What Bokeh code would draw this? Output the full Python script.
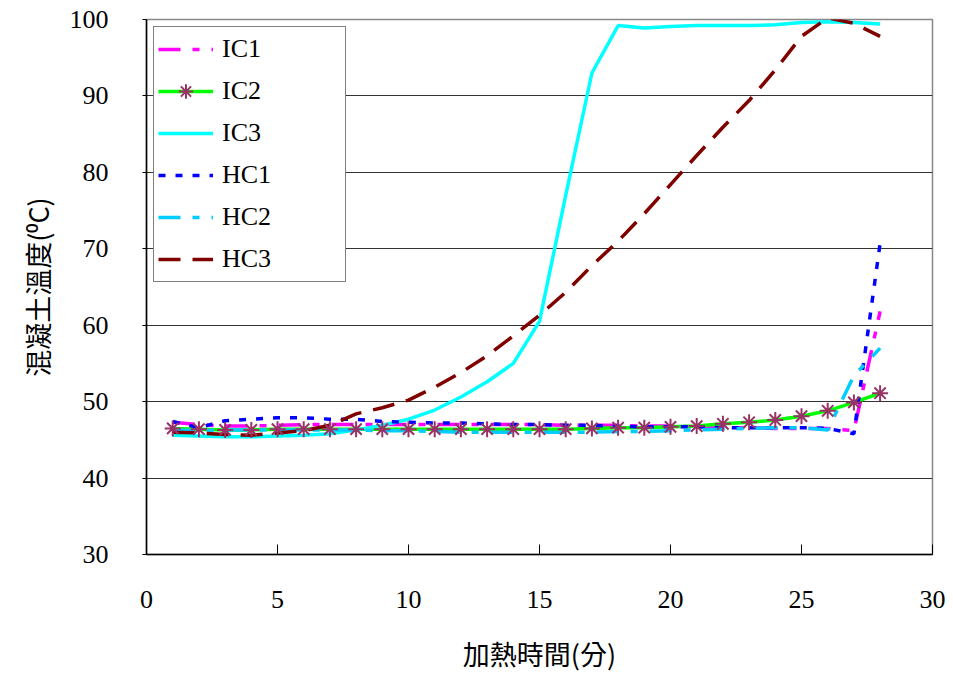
from bokeh.plotting import figure
from bokeh.models import FixedTicker, Range1d
from bokeh.embed import file_html
from bokeh.resources import INLINE

minutes = list(range(1, 29))

ic1 = [47.3, 47.0, 46.8, 46.8, 46.9, 47.0, 47.0, 47.0, 47.0, 47.0, 47.0, 47.0, 47.0, 47.0,
       47.0, 46.9, 46.9, 46.9, 46.8, 46.8, 46.7, 46.6, 46.6, 46.5, 46.5, 46.5, 46.2, 61.8]
ic2 = [46.5, 46.4, 46.3, 46.3, 46.4, 46.4, 46.4, 46.4, 46.4, 46.4, 46.4, 46.4, 46.4, 46.4,
       46.4, 46.4, 46.5, 46.6, 46.6, 46.7, 46.8, 47.1, 47.3, 47.6, 48.1, 48.8, 49.9, 51.1]
ic3 = [45.6, 45.5, 45.4, 45.4, 45.5, 45.6, 45.8, 46.3, 46.9, 47.7, 48.9, 50.6, 52.6, 55.0,
       60.5, 77.0, 93.0, 99.2, 98.9, 99.1, 99.2, 99.2, 99.2, 99.3, 99.6, 99.7, 99.6, 99.4]
hc1 = [47.4, 46.6, 47.5, 47.7, 47.9, 47.9, 47.7, 47.7, 47.4, 47.3, 47.2, 47.2, 47.1, 47.0,
       47.0, 46.9, 46.9, 46.8, 46.7, 46.7, 46.7, 46.6, 46.6, 46.6, 46.6, 46.5, 45.8, 70.7]
hc2 = [46.3, 46.2, 46.3, 46.3, 46.3, 46.3, 46.3, 46.3, 46.2, 46.2, 46.1, 46.0, 46.0, 46.0,
       46.0, 46.0, 46.0, 46.1, 46.1, 46.2, 46.3, 46.4, 46.5, 46.6, 46.6, 46.3, 53.4, 57.0]
hc3 = [46.0, 45.9, 45.7, 45.6, 45.9, 46.2, 46.9, 48.4, 49.2, 50.2, 51.9, 53.8, 56.0, 58.6,
       61.3, 64.3, 67.8, 71.0, 74.6, 78.4, 82.2, 85.9, 89.4, 93.4, 97.8, 100.2, 99.5, 97.8]

x_ticks = [0, 5, 10, 15, 20, 25, 30]
y_ticks = [30, 40, 50, 60, 70, 80, 90, 100]

x_label = "加熱時間(分)"
y_label = "混凝土溫度(⁰C)"

p = figure(frame_width=786, frame_height=535,
           min_border_left=146, min_border_right=18, min_border_top=19, min_border_bottom=120,
           x_range=Range1d(0, 30), y_range=Range1d(30, 100),
           output_backend="svg", toolbar_location=None,
           background_fill_color="white", border_fill_color="white")

p.outline_line_color = "#888888"
p.outline_line_width = 1.5

p.xgrid.grid_line_color = None
p.ygrid.grid_line_color = "#333333"
p.ygrid.grid_line_width = 1

tick_font = "Liberation Serif"
for ax in (p.xaxis[0], p.yaxis[0]):
    ax.major_label_text_font = tick_font
    ax.major_label_text_font_size = "26px"
    ax.major_label_text_color = "black"
    ax.axis_line_color = "black"
    ax.axis_line_width = 1.5
    ax.major_tick_line_color = "black"
    ax.minor_tick_line_color = None
    ax.axis_label_text_font = "Noto Sans CJK TC"
    ax.axis_label_text_font_size = "27px"
    ax.axis_label_text_font_style = "normal"
    ax.axis_label_text_color = "black"

p.xaxis.ticker = FixedTicker(ticks=x_ticks)
p.yaxis.ticker = FixedTicker(ticks=y_ticks)
p.xaxis.major_tick_in = 10
p.xaxis.major_tick_out = 0
p.yaxis.major_tick_in = 0
p.yaxis.major_tick_out = 4
p.xaxis.major_label_standoff = 36
p.yaxis.major_label_standoff = 34
p.xaxis.axis_label = x_label
p.yaxis.axis_label = y_label
p.xaxis.axis_label_standoff = 23
p.yaxis.axis_label_standoff = 10

lw = 3.5
p.line(minutes, ic1, line_color="#FF00FF", line_width=lw, line_dash="22 12 7 12",
       legend_label="IC1")
p.line(minutes, ic2, line_color="#00FF00", line_width=lw, legend_label="IC2")
p.line(minutes, ic3, line_color="#00FFFF", line_width=lw, legend_label="IC3")
p.line(minutes, hc1, line_color="#0000FF", line_width=lw, line_dash="7 10",
       legend_label="HC1")
p.line(minutes, hc2, line_color="#00CCFF", line_width=lw, line_dash="22 12 7 12",
       legend_label="HC2")
p.line(minutes, hc3, line_color="#800000", line_width=lw, line_dash="22 12",
       legend_label="HC3")
p.scatter(minutes, ic2, marker="asterisk", size=16, line_color="#993366", line_width=2,
          legend_label="IC2")

lg = p.legend[0]
lg.location = "top_left"
lg.margin = 7
lg.padding = 4
lg.spacing = 6
lg.glyph_width = 55
lg.glyph_height = 36
lg.label_height = 36
lg.label_standoff = 9
lg.label_text_font = tick_font
lg.label_text_font_size = "26px"
lg.label_text_color = "black"
lg.border_line_color = "black"
lg.border_line_width = 1.5
lg.background_fill_alpha = 1.0
lg.label_width = 119

open("out.html", "w").write(file_html(p, INLINE))
